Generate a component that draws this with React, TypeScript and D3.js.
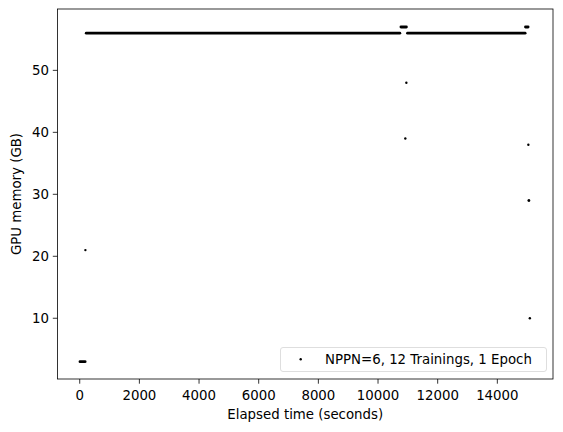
import React from 'react';
import * as d3 from 'd3';

// constant-memory stretches sampled densely (seconds, GB)
const runStart = [10, 220, 10770, 10990, 14945];
const runEnd = [180, 10730, 10950, 14930, 15030];
const runValue = [3, 56, 57, 56, 57];

// isolated samples
const pointTime = [190, 10915, 10950, 15040, 15050, 15065, 15090];
const pointValue = [21, 39, 48, 38, 29, 29, 10];

const xTicks = [0, 2000, 4000, 6000, 8000, 10000, 12000, 14000];
const yTicks = [10, 20, 30, 40, 50];

const legendLabel = 'NPPN=6, 12 Trainings, 1 Epoch';

function App() {
  const width = 563;
  const height = 432;
  const margin = { top: 9, right: 10, bottom: 53, left: 57.5 };
  const font = 'DejaVu Sans, sans-serif';

  const x = d3.scaleLinear()
    .domain([-745, 15866])
    .range([margin.left, width - margin.right]);
  const y = d3.scaleLinear()
    .domain([0.2, 59.9])
    .range([height - margin.bottom, margin.top]);

  const line = d3.line<number>()
    .x(d => x(d))
    .y(0);

  const bottom = height - margin.bottom;

  return (
    <svg width={width} height={height} style={{ position: 'absolute', left: 0, top: 0, background: '#fff' }}>
      {runStart.map((s, i) => (
        <path key={'r' + i}
          d={line([s, runEnd[i]]) || ''}
          transform={`translate(0, ${y(runValue[i])})`}
          stroke="#000" strokeWidth={2.9} strokeLinecap="round" fill="none" />
      ))}
      {pointTime.map((t, i) => (
        <circle key={'p' + i} cx={x(t)} cy={y(pointValue[i])} r={1.2} fill="#000" />
      ))}

      <rect x={margin.left} y={margin.top} width={width - margin.right - margin.left}
        height={bottom - margin.top} fill="none" stroke="#000" strokeWidth={0.8} />

      {xTicks.map(t => (
        <g key={'x' + t} transform={`translate(${x(t)}, ${bottom})`}>
          <line y2={4.7} stroke="#000" strokeWidth={0.8} />
          <text y={21} textAnchor="middle" fontFamily={font} fontSize={13.33} fill="#000">{t}</text>
        </g>
      ))}
      {yTicks.map(t => (
        <g key={'y' + t} transform={`translate(${margin.left}, ${y(t)})`}>
          <line x2={-4.7} stroke="#000" strokeWidth={0.8} />
          <text x={-8.5} dy="0.35em" textAnchor="end" fontFamily={font} fontSize={13.33} fill="#000">{t}</text>
        </g>
      ))}

      <text x={(margin.left + width - margin.right) / 2} y={419} textAnchor="middle"
        fontFamily={font} fontSize={13.33} fill="#000">Elapsed time (seconds)</text>
      <text transform={`translate(20.5, ${(margin.top + bottom) / 2}) rotate(-90)`} textAnchor="middle"
        fontFamily={font} fontSize={13.33} fill="#000">GPU memory (GB)</text>

      <g>
        <rect x={280.5} y={347.5} width={266} height={24} rx={2.5}
          fill="#fff" fillOpacity={0.8} stroke="#d6d6d6" strokeWidth={0.8} />
        <circle cx={300.7} cy={359.3} r={1.2} fill="#000" />
        <text x={325} y={364} fontFamily={font} fontSize={13.33} fill="#000">{legendLabel}</text>
      </g>
    </svg>
  );
}

export default App;
